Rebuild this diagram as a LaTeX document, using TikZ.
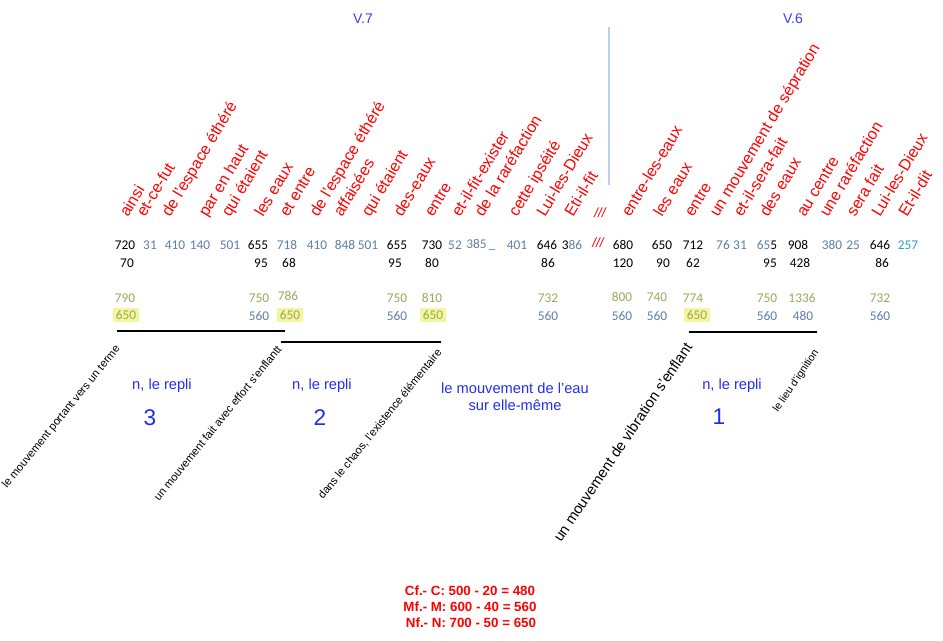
\documentclass[tikz,border=0pt]{standalone}
\usepackage{fontspec}
\setmainfont{Liberation Sans}
\newfontfamily\numfont{Carlito}
\usepackage{xcolor}
\definecolor{wordred}{RGB}{255,0,0}
\definecolor{vblue}{RGB}{60,60,235}
\definecolor{lblue}{RGB}{35,45,240}
\definecolor{nb}{RGB}{95,125,165}
\definecolor{olive}{RGB}{150,170,90}
\definecolor{hl}{RGB}{245,245,160}
\definecolor{cy}{RGB}{40,160,210}
\definecolor{sep}{RGB}{190,205,235}

\begin{document}
\begin{tikzpicture}
[x=0.75pt, y=-0.75pt,
word/.style={text=wordred, font=\fontsize{12}{12}\selectfont, rotate=59, anchor=base west, inner sep=0},
gloss/.style={font=\fontsize{8.4}{8.4}\selectfont, anchor=base west, inner sep=0},
num/.style={font=\numfont\fontsize{10}{10}\selectfont, inner sep=0},
hlnum/.style={num, text=olive, fill=hl, minimum width=20pt, minimum height=11pt},
repli/.style={text=lblue, font=\fontsize{11}{13}\selectfont, align=center},
fold/.style={text=lblue, font=\fontsize{17}{17}\selectfont},
verse/.style={text=vblue, font=\fontsize{10.5}{10.5}\selectfont},
bar/.style={line width=1.5pt},
formula/.style={text=wordred, font=\bfseries\fontsize{10}{12}\selectfont}]

\useasboundingbox (0,0) rectangle (943,640);

% verses
\node[verse] (v7) at (363,19) {V.7};
\node[verse] (v6) at (793,19) {V.6};
\draw[sep, line width=0.8pt] (609,27) -- (609,185);

% red words
\foreach \x/\t [count=\i] in {128/ainsi, 145/et-ce-fut, 170/de l'espace éthéré, 207/par en haut,
  230/qui étaient, 263/les eaux, 288/et entre, 318/de l'espace éthéré, 342/affaisées,
  370/qui étaient, 402/des-eaux, 433/entre, 460/et-il-fit-exister, 483/de la raréfaction,
  517/cette ipséité, 545/Lui-les-Dieux, 573/Eti-il-fit, 630/entre-les-eaux, 662/les eaux,
  693/entre, 718/un mouvement de sépration, 742/et-il-sera-fait, 768/des eaux, 805/au centre,
  828/une raréfaction, 855/sera fait, 880/Lui-les-Dieux, 907/Et-il-dit}
  \node[word] (w\i) at (\x,218) {\t};
\node[text=wordred, font=\itshape\fontsize{10}{10}\selectfont] (cut1) at (600,213) {///};

% numbers
\foreach \x/\t/\c [count=\i] in {125/720/black, 150/31/nb, 175/410/nb, 200/140/nb, 230/501/nb,
  258/655/black, 287/718/nb, 317/410/nb, 345/848/nb, 368/501/nb, 397/655/black, 432/730/black,
  455/52/nb, 481/385\,\_/nb, 517/401/nb, 547/646/black, 572/3\textcolor{nb}{86}/black,
  623/680/black, 662/650/black, 693/712/black, 723/76/nb, 740/31/nb,
  767/\textcolor{nb}{65}5/black, 798/908/black, 832/380/nb, 853/25/nb, 880/646/black, 908/257/cy}
  \node[num, text=\c] (a\i) at (\x,245) {\t};
\node[text=wordred, font=\itshape\fontsize{10}{10}\selectfont] (cut2) at (598,243) {///};

\foreach \x/\t [count=\i] in {127/70, 261/95, 289/68, 395/95, 432/80, 548/86, 623/120,
  663/90, 693/62, 770/95, 800/428, 882/86}
  \node[num] (b\i) at (\x,263) {\t};

\foreach \x/\y/\t [count=\i] in {125/298/790, 259/298/750, 288/296/786, 397/298/750, 432/298/810,
  548/298/732, 622/297/800, 657/297/740, 693/298/774, 767/298/750, 802/298/1336, 880/298/732}
  \node[num, text=olive] (c\i) at (\x,\y) {\t};

\foreach \x/\t [count=\i] in {259/560, 397/560, 548/560, 622/560, 657/560, 767/560, 803/480, 880/560}
  \node[num, text=nb] (d\i) at (\x,316) {\t};
\foreach \x [count=\i] in {126,290,433,697}
  \node[hlnum] (h\i) at (\x,315) {650};

% folds
\draw[bar] (117,331) -- (285,331);
\draw[bar] (281,342) -- (441,342);
\draw[bar] (689,332) -- (817,332);

\node[gloss, rotate=51] (g1) at (7,489) {le mouvement portant vers un terme};
\node[gloss, rotate=51] (g2) at (159,502) {un mouvement fait avec effort s'enflantt};
\node[gloss, rotate=51] (g3) at (323,500) {dans le chaos, l'existence élémentaire};
\node[gloss, rotate=56, font=\fontsize{11}{11}\selectfont] (g4) at (561,543) {un mouvement de vibration s'enflant};
\node[gloss, rotate=56, font=\fontsize{8}{8}\selectfont] (g5) at (778,413) {le lieu d'ignition};

\node[repli] (n3) at (162,386) {n, le repli};
\node[fold] (f3) at (150,418) {3};
\node[repli] (n2) at (322,386) {n, le repli};
\node[fold] (f2) at (320,418) {2};
\node[repli] (eau) at (515,397) {le mouvement de l’eau\\sur elle-même};
\node[repli] (n1) at (732,386) {n, le repli};
\node[fold] (f1) at (719,417) {1};

% reductions
\node[formula] (cf) at (470,591) {Cf.- C: 500 - 20 = 480};
\node[formula] (mf) at (470,607) {Mf.- M: 600 - 40 = 560};
\node[formula] (nf) at (471,623) {Nf.- N: 700 - 50 = 650};
\end{tikzpicture}
\end{document}
